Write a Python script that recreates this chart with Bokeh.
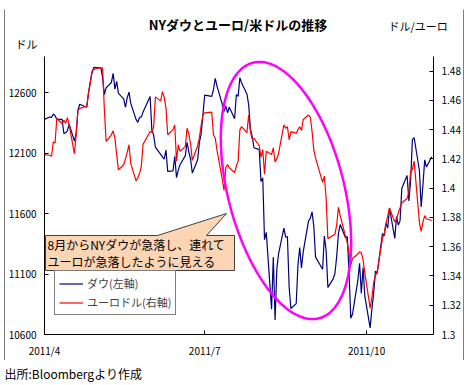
import numpy as np
import pandas as pd
from bokeh.plotting import figure
from bokeh.layouts import column, row
from bokeh.models import (Range1d, LinearAxis, FixedTicker, CustomJSTickFormatter,
                          Label, PolyAnnotation, Legend, LegendItem, ColumnDataSource)
from bokeh.embed import file_html
from bokeh.resources import INLINE

FONT = "Noto Sans CJK JP"

dates = [
    # April
    "2011-04-01", "2011-04-04", "2011-04-05", "2011-04-06", "2011-04-07", "2011-04-08",
    "2011-04-11", "2011-04-12", "2011-04-13", "2011-04-14", "2011-04-15",
    "2011-04-18", "2011-04-19", "2011-04-20", "2011-04-21",
    "2011-04-25", "2011-04-26", "2011-04-27", "2011-04-28", "2011-04-29",
    # May
    "2011-05-02", "2011-05-03", "2011-05-04", "2011-05-05", "2011-05-06",
    "2011-05-09", "2011-05-10", "2011-05-11", "2011-05-12", "2011-05-13",
    "2011-05-16", "2011-05-17", "2011-05-18", "2011-05-19", "2011-05-20",
    "2011-05-23", "2011-05-24", "2011-05-25", "2011-05-26", "2011-05-27",
    "2011-05-31",
    # June
    "2011-06-01", "2011-06-02", "2011-06-03",
    "2011-06-06", "2011-06-07", "2011-06-08", "2011-06-09", "2011-06-10",
    "2011-06-13", "2011-06-14", "2011-06-15", "2011-06-16", "2011-06-17",
    "2011-06-20", "2011-06-21", "2011-06-22", "2011-06-23", "2011-06-24",
    "2011-06-27", "2011-06-28", "2011-06-29", "2011-06-30",
    # July
    "2011-07-01", "2011-07-05", "2011-07-06", "2011-07-07", "2011-07-08",
    "2011-07-11", "2011-07-12", "2011-07-13", "2011-07-14", "2011-07-15",
    "2011-07-18", "2011-07-19", "2011-07-20", "2011-07-21", "2011-07-22",
    "2011-07-25", "2011-07-26", "2011-07-27", "2011-07-28", "2011-07-29",
    # August
    "2011-08-01", "2011-08-02", "2011-08-03", "2011-08-04", "2011-08-05",
    "2011-08-08", "2011-08-09", "2011-08-10", "2011-08-11", "2011-08-12",
    "2011-08-15", "2011-08-16", "2011-08-17", "2011-08-18", "2011-08-19",
    "2011-08-22", "2011-08-23", "2011-08-24", "2011-08-25", "2011-08-26",
    "2011-08-29", "2011-08-30", "2011-08-31",
    # September
    "2011-09-01", "2011-09-02",
    "2011-09-06", "2011-09-07", "2011-09-08", "2011-09-09",
    "2011-09-12", "2011-09-13", "2011-09-14", "2011-09-15", "2011-09-16",
    "2011-09-19", "2011-09-20", "2011-09-21", "2011-09-22", "2011-09-23",
    "2011-09-26", "2011-09-27", "2011-09-28", "2011-09-29", "2011-09-30",
    # October
    "2011-10-03", "2011-10-04", "2011-10-05", "2011-10-06", "2011-10-07",
    "2011-10-10", "2011-10-11", "2011-10-12", "2011-10-13", "2011-10-14",
    "2011-10-17", "2011-10-18", "2011-10-19", "2011-10-20", "2011-10-21",
    "2011-10-24", "2011-10-25", "2011-10-26", "2011-10-27", "2011-10-28",
    "2011-10-31",
    # November
    "2011-11-01", "2011-11-02", "2011-11-03", "2011-11-04", "2011-11-07",
]

dow = [
    12380, 12400, 12395, 12425, 12410, 12380, 12380, 12263, 12270, 12285, 12340,
    12200, 12265, 12455, 12505, 12480, 12600, 12690, 12765, 12810,
    12807, 12808, 12725, 12585, 12640, 12685, 12760, 12630, 12695, 12595,
    12550, 12480, 12560, 12605, 12512, 12380, 12355, 12395, 12400, 12440, 12570,
    12290, 12250, 12150, 12090, 12070, 12050, 12125, 11950, 11953, 12075, 11898,
    11960, 12005, 12080, 12190, 12110, 12050, 11935, 12045, 12190, 12260, 12415,
    12580, 12570, 12625, 12720, 12655, 12505, 12445, 12490, 12435, 12480,
    12385, 12585, 12570, 12725, 12680, 12590, 12500, 12300, 12240, 12145,
    12130, 11865, 11895, 11385, 11445, 10810, 11240, 10720, 11145, 11270,
    11480, 11405, 11410, 10990, 10815, 10855, 11175, 11320, 11150, 11285,
    11540, 11560, 11615,
    11495, 11240, 11140, 11415, 11295, 10990, 11060, 11105, 11245, 11435, 11510,
    11400, 11410, 11125, 10735, 10770, 11045, 11190, 10940, 11155, 10915,
    10655, 10810, 10940, 11125, 11105, 11435, 11415, 11520, 11480, 11645,
    11395, 11575, 11505, 11540, 11810, 11915, 11705, 11870, 12210, 12230, 11955,
    11655, 11835, 12045, 11985, 12070,
]

eurusd = [
    1.4230, 1.4225, 1.4218, 1.4316, 1.4309, 1.4478, 1.4440, 1.4465, 1.4444, 1.4482, 1.4435,
    1.4235, 1.4365, 1.4534, 1.4545, 1.4560, 1.4650, 1.4720, 1.4800, 1.4811,
    1.4820, 1.4825, 1.4820, 1.4540, 1.4320, 1.4365, 1.4392, 1.4343, 1.4230, 1.4125,
    1.4160, 1.4200, 1.4245, 1.4297, 1.4170, 1.4050, 1.4070, 1.4100, 1.4150, 1.4300, 1.4387,
    1.4380, 1.4420, 1.4624, 1.4595, 1.4660, 1.4624, 1.4550, 1.4365, 1.4400, 1.4432, 1.4185,
    1.4297, 1.4252, 1.4286, 1.4410, 1.4370, 1.4300, 1.4190, 1.4290, 1.4345, 1.4430, 1.4500,
    1.4515, 1.4520, 1.4365, 1.4343, 1.4260, 1.4061, 1.3985, 1.4140, 1.4162, 1.4140,
    1.4106, 1.4150, 1.4185, 1.4400, 1.4421, 1.4380, 1.4500, 1.4387, 1.4335, 1.4340,
    1.4290, 1.4210, 1.4264, 1.4095, 1.4252, 1.4230, 1.4275, 1.4180, 1.4200, 1.4240,
    1.4432, 1.4410, 1.4421, 1.4331, 1.4387, 1.4376, 1.4400, 1.4420, 1.4395, 1.4470,
    1.4500, 1.4485, 1.4390,
    1.4260, 1.4205, 1.4040, 1.4083, 1.3930, 1.3655, 1.3678, 1.3685, 1.3750, 1.3870, 1.3813,
    1.3670, 1.3630, 1.3560, 1.3475, 1.3520, 1.3550, 1.3566, 1.3560, 1.3510, 1.3419,
    1.3180, 1.3250, 1.3355, 1.3400, 1.3430, 1.3655, 1.3690, 1.3760, 1.3810, 1.3865,
    1.3768, 1.3790, 1.3830, 1.3865, 1.3900, 1.3930, 1.3971, 1.4117, 1.4128, 1.4185, 1.3765,
    1.3705, 1.3768, 1.3813, 1.3791, 1.3779,
]

x_ticks = ["2011-04-01", "2011-07-01", "2011-10-01"]
x_tick_labels = ["2011/4", "2011/7", "2011/10"]
left_ticks = [10600, 11100, 11600, 12100, 12600]
right_ticks = [1.30, 1.32, 1.34, 1.36, 1.38, 1.40, 1.42, 1.44, 1.46, 1.48]

title_text = "NYダウとユーロ/米ドルの推移"
left_unit = "ドル"
right_unit = "ドル/ユーロ"
source_text = "出所:Bloombergより作成"
note_lines = ["8月からNYダウが急落し、連れて", "ユーロが急落したように見える"]
series_names = ["ダウ(左軸)", "ユーロドル(右軸)"]


def blank_fig(w, h, color="white"):
    f = figure(width=w, height=h, x_range=Range1d(0, 1), y_range=Range1d(0, 1),
               x_axis_location=None, y_axis_location=None,
               output_backend="svg", toolbar_location=None,
               min_border=0, min_border_left=0, min_border_right=0,
               min_border_top=0, min_border_bottom=0, frame_align=False)
    f.outline_line_color = None
    f.grid.visible = False
    f.background_fill_color = color
    f.border_fill_color = color
    return f


def add_text(f, txt, x, y, size, style="normal", align="left"):
    f.add_layout(Label(x=x, y=y, x_units="canvas", y_units="canvas", text=txt,
                       text_font=FONT, text_font_size=size, text_font_style=style,
                       text_align=align, text_baseline="middle", text_color="black"))


# ---- header (inside the outer box, above the plot area)
header = blank_fig(458, 47)
add_text(header, title_text, 232.5, 15, "13px", "bold", "center")
add_text(header, right_unit, 383, 16.5, "11px")
add_text(header, left_unit, 10, 34, "11px")

# ---- main chart
src = ColumnDataSource(dict(date=pd.to_datetime(dates), dow=dow, eur=eurusd))

p = figure(width=458, height=304, x_axis_type="datetime",
           x_range=Range1d(pd.Timestamp("2011-04-01"), pd.Timestamp("2011-11-08")),
           y_range=Range1d(10600, 12900),
           output_backend="svg", toolbar_location=None, frame_align=False,
           min_border_left=36, min_border_right=28, min_border_top=0, min_border_bottom=23)
p.background_fill_color = "white"
p.border_fill_color = "white"
p.outline_line_color = None
p.grid.visible = False

p.extra_y_ranges = {"eur": Range1d(1.30, 1.49)}
rax = LinearAxis(y_range_name="eur")
p.add_layout(rax, "right")

xt_ms = [int(pd.Timestamp(d).value // 10**6) for d in x_ticks]
p.xaxis.ticker = FixedTicker(ticks=xt_ms)
p.xaxis.major_label_overrides = {k: v for k, v in zip(xt_ms, x_tick_labels)}
p.yaxis[0].ticker = FixedTicker(ticks=left_ticks)
rax.ticker = FixedTicker(ticks=right_ticks)
rax.formatter = CustomJSTickFormatter(code="return (Math.round(tick*100)/100).toString();")

for ax in [p.xaxis[0], p.yaxis[0], rax]:
    ax.axis_line_color = "black"
    ax.axis_line_width = 1
    ax.major_tick_line_color = "black"
    ax.major_tick_in = 4
    ax.major_tick_out = 0
    ax.minor_tick_line_color = None
    ax.major_label_text_font = FONT
    ax.major_label_text_font_size = "10px"
    ax.major_label_text_color = "black"
    ax.major_label_standoff = 8

l_dow = p.line(x="date", y="dow", source=src, line_color="#000080", line_width=1.2)
l_eur = p.line(x="date", y="eur", source=src, y_range_name="eur", line_color="#ff0000", line_width=1.2)

legend = Legend(items=[LegendItem(label=series_names[0], renderers=[l_dow]),
                       LegendItem(label=series_names[1], renderers=[l_eur])],
                location=(10, 19), margin=0, padding=4, spacing=3,
                glyph_width=24, glyph_height=13, label_height=13, label_standoff=4,
                label_text_font=FONT, label_text_font_size="11px",
                border_line_color="black", border_line_width=1,
                background_fill_color="white", background_fill_alpha=1)
p.add_layout(legend)

# magenta ellipse (pixel geometry, canvas units of the main figure)
t = np.linspace(0, 2 * np.pi, 160)
cx, cy, a, b = 280.5, 134.0, 132.0, 58.0
al = np.deg2rad(14.5)
ex = cx + a * np.cos(t) * (-np.sin(al)) + b * np.sin(t) * np.cos(al)
ey = cy + a * np.cos(t) * (-np.cos(al)) + b * np.sin(t) * (-np.sin(al))
p.add_layout(PolyAnnotation(xs=list(ex), ys=list(ey), xs_units="canvas", ys_units="canvas",
                            fill_color=None, fill_alpha=0, line_color="#ff00ff",
                            line_alpha=1, line_width=2.5))

# callout box with pointer
p.add_layout(PolyAnnotation(xs=[40, 152, 221, 201, 229, 229, 40],
                            ys=[179, 179, 157, 179, 179, 214, 214],
                            xs_units="canvas", ys_units="canvas",
                            fill_color="#fcd5b4", fill_alpha=1,
                            line_color="#404040", line_alpha=1, line_width=1))
for i, line in enumerate(note_lines):
    add_text(p, line, 42, 187.5 + 17.5 * i, "12px")

# ---- outer box built from 1px black strips around header + chart
inner = column(header, p, spacing=0)
middle = row(blank_fig(1, 351, "black"), inner, blank_fig(1, 351, "black"), spacing=0)
box = column(blank_fig(460, 1, "black"), middle, blank_fig(460, 1, "black"),
             spacing=0, margin=(8, 0, 0, 4))

# ---- footer (below the outer box)
footer = blank_fig(464, 22)
add_text(footer, source_text, 4, 11.5, "12px")

root = column(box, footer, spacing=0)

open("out.html", "w").write(file_html(root, INLINE))
